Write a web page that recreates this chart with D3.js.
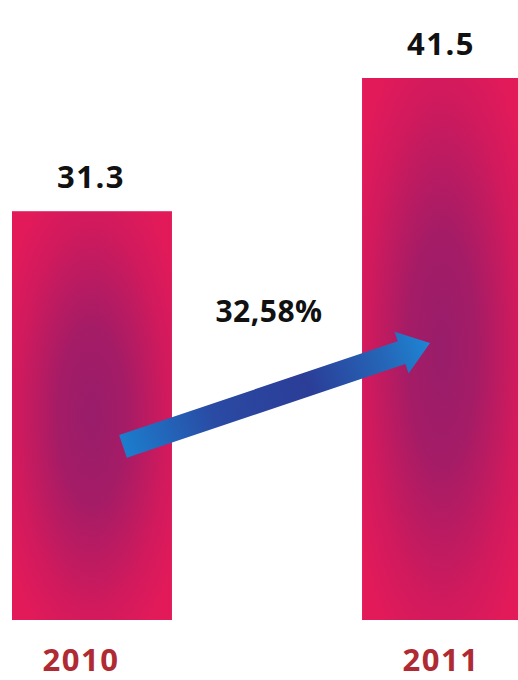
<!DOCTYPE html>
<html><head><meta charset="utf-8">
<script src="https://cdn.jsdelivr.net/npm/d3@7"></script>
<style>html,body{margin:0;padding:0;background:#fff;overflow:hidden}</style>
</head><body>
<svg id="c" width="518" height="680"></svg>
<script>
const years = ["2010", "2011"];
const values = [31.3, 41.5];
const valueLabels = ["31.3", "41.5"];
const growthLabel = "32,58%";

const svg = d3.select("#c");
const x = d3.scaleBand().domain(years).range([12, 522]).paddingInner(0.543).paddingOuter(0);
const y = d3.scaleLinear().domain([0, 41.5]).range([620, 78]);

const defs = svg.append("defs");
const rg = defs.append("radialGradient").attr("id", "barGrad")
  .attr("cx", "0.5").attr("cy", "0.5").attr("r", "0.62");
rg.append("stop").attr("offset", "0%").attr("stop-color", "#981d6b");
rg.append("stop").attr("offset", "35%").attr("stop-color", "#a51c66");
rg.append("stop").attr("offset", "75%").attr("stop-color", "#d01a5d");
rg.append("stop").attr("offset", "100%").attr("stop-color", "#e21a5a");

const font = "'Open Sans', 'Noto Sans', sans-serif";

svg.selectAll("rect.bar").data(years).join("rect").attr("class", "bar")
  .attr("x", d => x(d)).attr("width", x.bandwidth())
  .attr("y", (d, i) => y(values[i])).attr("height", (d, i) => y(0) - y(values[i]))
  .attr("fill", "url(#barGrad)");

svg.selectAll("text.val").data(years).join("text").attr("class", "val")
  .attr("x", d => x(d) + x.bandwidth() / 2 - 1)
  .attr("y", (d, i) => y(values[i]) - 23)
  .attr("text-anchor", "middle").attr("font-family", font).attr("font-weight", 700)
  .attr("font-size", 31).attr("letter-spacing", 1.5).attr("fill", "#111")
  .text((d, i) => valueLabels[i]);

svg.selectAll("text.yr").data(years).join("text").attr("class", "yr")
  .attr("x", d => x(d) + x.bandwidth() / 2 - 11 + (d === "2011" ? 10 : 0))
  .attr("y", 671)
  .attr("text-anchor", "middle").attr("font-family", font).attr("font-weight", 700)
  .attr("font-size", 31).attr("letter-spacing", 1.5).attr("fill", "#b02a33")
  .text(d => d);

// growth arrow
const x0 = x("2010") + x.bandwidth() / 2 + 31, y0 = y(13.3);
const x1 = x("2011") + x.bandwidth() / 2 - 12, y1 = y(21.2);
const ang = Math.atan2(y1 - y0, x1 - x0);
const len = Math.hypot(x1 - x0, y1 - y0);
const hw = 12, headLen = 30, headHw = 22;
const lg = defs.append("linearGradient").attr("id", "arrGrad")
  .attr("gradientUnits", "userSpaceOnUse")
  .attr("x1", 0).attr("y1", 0).attr("x2", len).attr("y2", 0);
lg.append("stop").attr("offset", "0%").attr("stop-color", "#1c7dcd");
lg.append("stop").attr("offset", "30%").attr("stop-color", "#2a4aa3");
lg.append("stop").attr("offset", "60%").attr("stop-color", "#2b3d97");
lg.append("stop").attr("offset", "85%").attr("stop-color", "#2566b8");
lg.append("stop").attr("offset", "100%").attr("stop-color", "#1d86d4");
const pts = [[0, -hw], [len - headLen, -hw], [len - headLen, -headHw], [len, 0],
  [len - headLen, headHw], [len - headLen, hw], [0, hw]];
svg.append("path")
  .attr("transform", `translate(${x0},${y0}) rotate(${ang * 180 / Math.PI})`)
  .attr("d", d3.line()(pts) + "Z")
  .attr("fill", "url(#arrGrad)");

svg.append("text").attr("x", 269).attr("y", 322)
  .attr("text-anchor", "middle").attr("font-family", font).attr("font-weight", 700)
  .attr("font-size", 30).attr("letter-spacing", 0.5).attr("fill", "#111")
  .text(growthLabel);
</script>
</body></html>
